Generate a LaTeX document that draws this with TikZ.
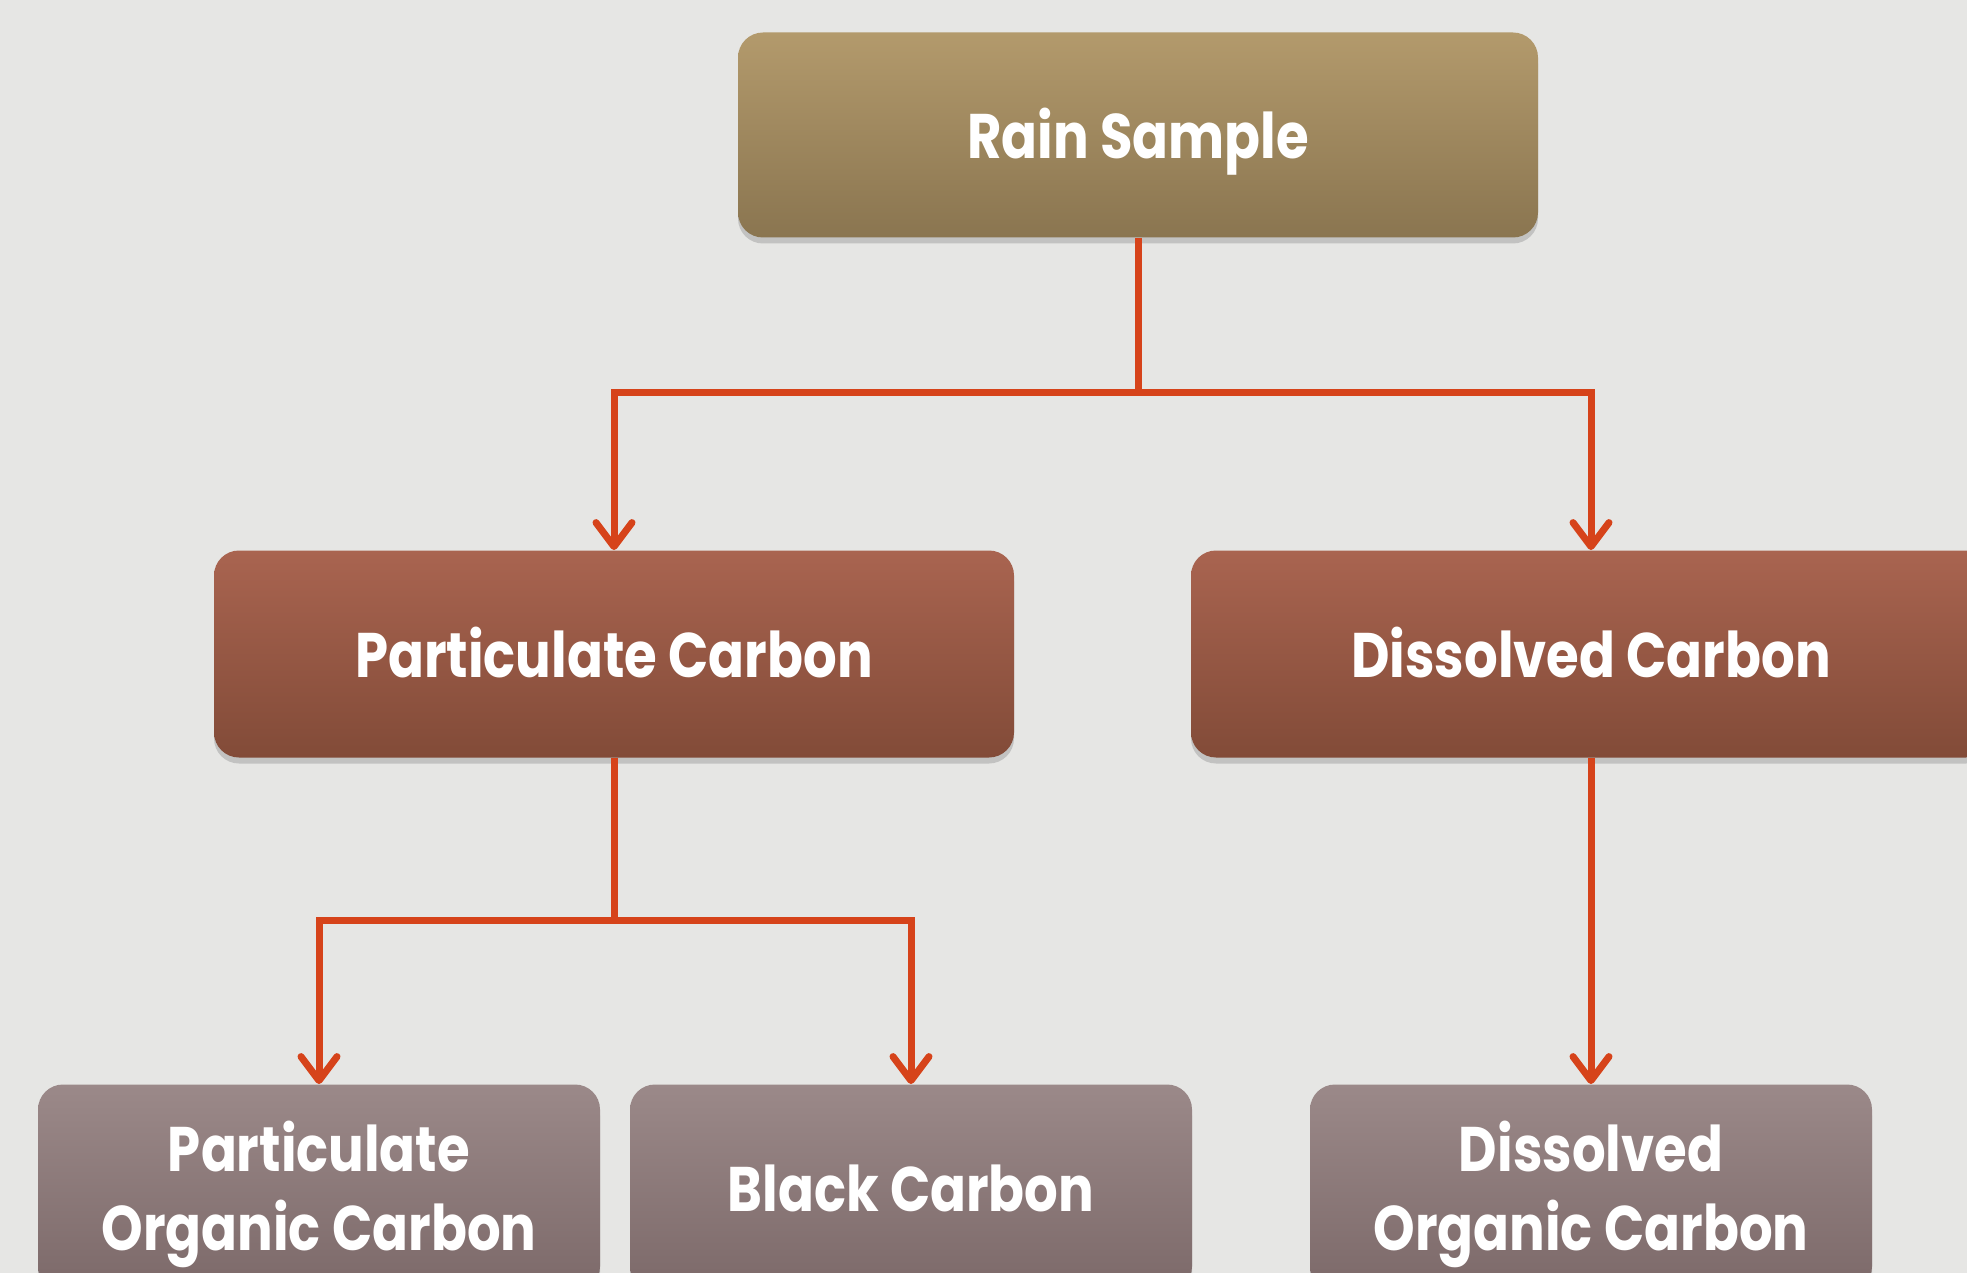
\documentclass[tikz,border=0pt]{standalone}
\usepackage{fontspec}
\setmainfont{Poppins}[FakeStretch=0.84]
\usetikzlibrary{arrows.meta,shadows}

\definecolor{paper}{HTML}{E6E6E4}
\definecolor{linkred}{HTML}{D6431A}
\definecolor{raintop}{HTML}{B39A6C}
\definecolor{rainbot}{HTML}{8A7550}
\definecolor{midtop}{HTML}{A96450}
\definecolor{midbot}{HTML}{824B38}
\definecolor{leaftop}{HTML}{9B8989}
\definecolor{leafbot}{HTML}{7C6969}

\tikzset{
  box/.style={rounded corners=12.5pt, text=white, align=center, inner sep=0pt,
    font=\bfseries\fontsize{31.5}{39.5}\selectfont,
    drop shadow={shadow xshift=0pt, shadow yshift=-3pt, opacity=0.35}},
  oneline/.style={text height=23.5pt, text depth=0pt},
  twoline/.style={text depth=2.6pt},
  rainbox/.style={box, oneline, top color=raintop, bottom color=rainbot,
    minimum width=400pt, minimum height=102.5pt},
  midbox/.style={box, oneline, top color=midtop, bottom color=midbot,
    minimum width=400pt, minimum height=103.5pt},
  leafbox/.style={box, top color=leaftop, bottom color=leafbot,
    minimum width=281pt, minimum height=103.5pt},
  link/.style={draw=linkred, line width=3.5pt,
    -{Straight Barb[length=12pt, width=18pt, round]}}
}

\begin{document}
\begin{tikzpicture}[x=0.5pt, y=-0.5pt]

% Page and paper background
\useasboundingbox (0,0) rectangle (1967,1273);
\clip (0,0) rectangle (1967,1273);
\fill[paper] (0,0) rectangle (1967,1273);

% Top box
\node[rainbox] (rain) at (1138,135) {Rain Sample};

% Middle row
\node[midbox] (part) at (614,654) {Particulate Carbon};
\node[midbox] (diss) at (1591,654) {Dissolved Carbon};

% Bottom row
\node[leafbox, twoline] (poc) at (319,1188) {Particulate\\Organic Carbon};
\node[leafbox, oneline] (bc) at (911,1188) {Black Carbon};
\node[leafbox, twoline] (doc) at (1591,1188) {Dissolved\\Organic Carbon};

% Branch points
\coordinate (split1) at (1138,393);
\coordinate (split2) at (614,920);

% Rain sample to middle row
\draw[link, arrows=-] (rain.south) -- (split1);
\draw[link] (split1) -| (part.north);
\draw[link] (split1) -| (diss.north);

% Particulate carbon to its parts
\draw[link, arrows=-] (part.south) -- (split2);
\draw[link] (split2) -| (poc.north);
\draw[link] (split2) -| (bc.north);

% Dissolved carbon to its part
\draw[link] (diss.south) -- (doc.north);

\end{tikzpicture}
\end{document}
